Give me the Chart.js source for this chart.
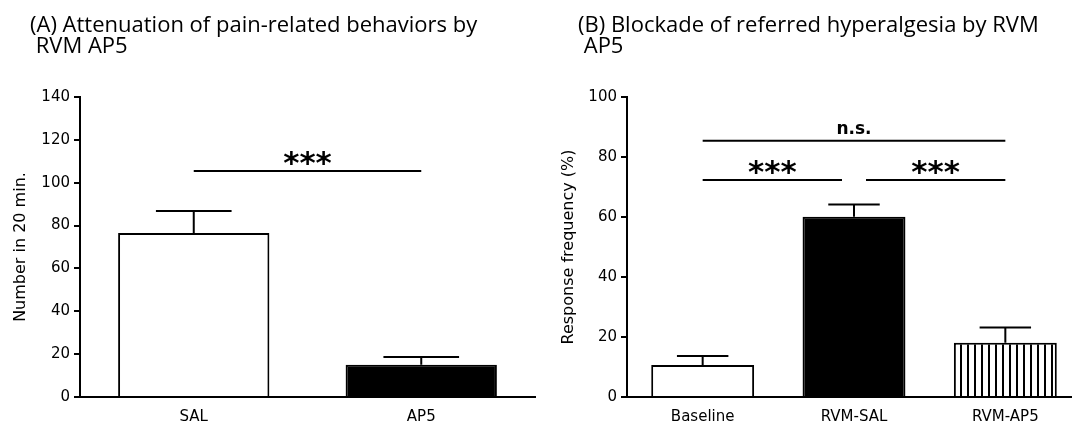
<!DOCTYPE html>
<html>
<head>
<meta charset="utf-8">
<script src="https://cdn.jsdelivr.net/npm/chart.js@4"></script>
<style>
html, body { margin: 0; padding: 0; background: #fff; overflow: hidden; width: 1072px; height: 422px; }
#chartA { position: absolute; left: 0; top: 0; }
#chartB { position: absolute; left: 540px; top: 0; }
</style>
</head>
<body>
<canvas id="chartA" width="540" height="422"></canvas>
<canvas id="chartB" width="560" height="422"></canvas>
<script>
// panel A
const catsA = ['SAL', 'AP5']
const meanA = [76.5, 15]
const semA = [10.3, 3.7]
const ticksA = [0, 20, 40, 60, 80, 100, 120, 140]
const sigA = [[0, 1, 105.5, '***']]
const titleA = ['(A) Attenuation of pain-related behaviors by', ' RVM AP5']
const yTitleA = 'Number in 20 min.'

// panel B
const catsB = ['Baseline', 'RVM-SAL', 'RVM-AP5']
const meanB = [10.7, 60.1, 18.1]
const semB = [3, 4.1, 5.1]
const ticksB = [0, 20, 40, 60, 80, 100]
const sigB = [[0, 2, 85.4, 'n.s.'], [0, 1, 72.3, '***'], [1, 2, 72.3, '***']]
const titleB = ['(B) Blockade of referred hyperalgesia by RVM', ' AP5']
const yTitleB = 'Response frequency (%)'

const FONT = '"DejaVu Sans", Verdana, sans-serif'

function hatch() {
    var c = document.createElement('canvas')
    c.width = 7
    c.height = 10
    var g = c.getContext('2d')
    g.fillStyle = '#fff'
    g.fillRect(0, 0, 7, 10)
    g.fillStyle = '#000'
    g.fillRect(0, 0, 2, 10)
    return g.createPattern(c, 'repeat')
}

function extras(p) {
    return {
        id: 'extras',
        afterDatasetsDraw(chart) {
            const ctx = chart.ctx
            const x = chart.scales.x
            const y = chart.scales.y
            ctx.save()
            ctx.strokeStyle = '#000'
            ctx.fillStyle = '#000'
            ctx.lineWidth = 2

            // upper error bars
            chart.getDatasetMeta(0).data.forEach((bar, i) => {
                let top = y.getPixelForValue(p.mean[i] + p.sem[i])
                let half = bar.width / 4
                ctx.beginPath()
                ctx.moveTo(bar.x, bar.y)
                ctx.lineTo(bar.x, top)
                ctx.moveTo(bar.x - half, top)
                ctx.lineTo(bar.x + half, top)
                ctx.stroke()
            })

            // significance lines
            p.sig.forEach(s => {
                let x0 = x.getPixelForValue(s[0])
                let x1 = x.getPixelForValue(s[1])
                // leave a gap where two lines meet over the same bar
                if (p.sig.some(o => o !== s && o[2] == s[2] && o[0] == s[1])) x1 -= 12
                if (p.sig.some(o => o !== s && o[2] == s[2] && o[1] == s[0])) x0 += 12
                let yy = y.getPixelForValue(s[2])
                ctx.beginPath()
                ctx.moveTo(x0, yy)
                ctx.lineTo(x1, yy)
                ctx.stroke()
                ctx.textAlign = 'center'
                ctx.textBaseline = 'alphabetic'
                if (s[3] == '***') {
                    ctx.font = 'bold 31px ' + FONT
                    ctx.fillText(s[3], (x0 + x1) / 2, yy + 2)
                } else {
                    ctx.font = 'bold 17px ' + FONT
                    ctx.fillText(s[3], (x0 + x1) / 2, yy - 7)
                }
            })

            // panel title
            ctx.textAlign = 'left'
            ctx.font = '22px "Open Sans", sans-serif'
            p.title.forEach((t, i) => ctx.fillText(t, p.titleX, 32 + i * 21))
            ctx.restore()
        }
    }
}

function makeChart(id, p) {
    return new Chart(document.getElementById(id), {
        type: 'bar',
        data: {
            labels: p.cats,
            datasets: [{
                data: p.mean,
                backgroundColor: p.fills,
                borderColor: '#000',
                borderWidth: 2,
                categoryPercentage: 1,
                barPercentage: p.barPct,
            }],
        },
        options: {
            responsive: false,
            animation: false,
            layout: {padding: {left: 0, top: 97, right: p.padRight, bottom: 0}},
            plugins: {legend: {display: false}, tooltip: {enabled: false}, title: {display: false}},
            scales: {
                x: {
                    grid: {display: false, drawTicks: false},
                    border: {display: true, color: '#000', width: 2},
                    ticks: {color: '#000', padding: 11, font: {family: FONT, size: 15}},
                    afterFit: (s) => { s.height = 25 },
                },
                y: {
                    min: 0,
                    max: p.ticks[p.ticks.length - 1],
                    afterBuildTicks: (s) => { s.ticks = p.ticks.map(v => ({value: v})) },
                    grid: {drawOnChartArea: false, drawTicks: true, tickLength: 6, color: '#000', lineWidth: 2},
                    border: {display: true, color: '#000', width: 2},
                    ticks: {color: '#000', padding: 4, font: {family: FONT, size: 15}},
                    title: {
                        display: true,
                        text: p.yTitle,
                        color: '#000',
                        font: {family: FONT, size: 16},
                        padding: {top: p.yTitlePad, bottom: 0},
                    },
                    afterFit: (s) => { s.width = p.axisLeft },
                },
            },
        },
        plugins: [extras(p)],
    })
}

makeChart('chartA', {
    cats: catsA, mean: meanA, sem: semA, ticks: ticksA, sig: sigA,
    title: titleA, yTitle: yTitleA, titleX: 30,
    fills: ['#fff', '#000'], barPct: 0.665,
    axisLeft: 80, padRight: 5, yTitlePad: 11,
})

makeChart('chartB', {
    cats: catsB, mean: meanB, sem: semB, ticks: ticksB, sig: sigB,
    title: titleB, yTitle: yTitleB, titleX: 38,
    fills: ['#fff', '#000', hatch()], barPct: 0.68,
    axisLeft: 87, padRight: 19, yTitlePad: 19,
})
</script>
</body>
</html>
